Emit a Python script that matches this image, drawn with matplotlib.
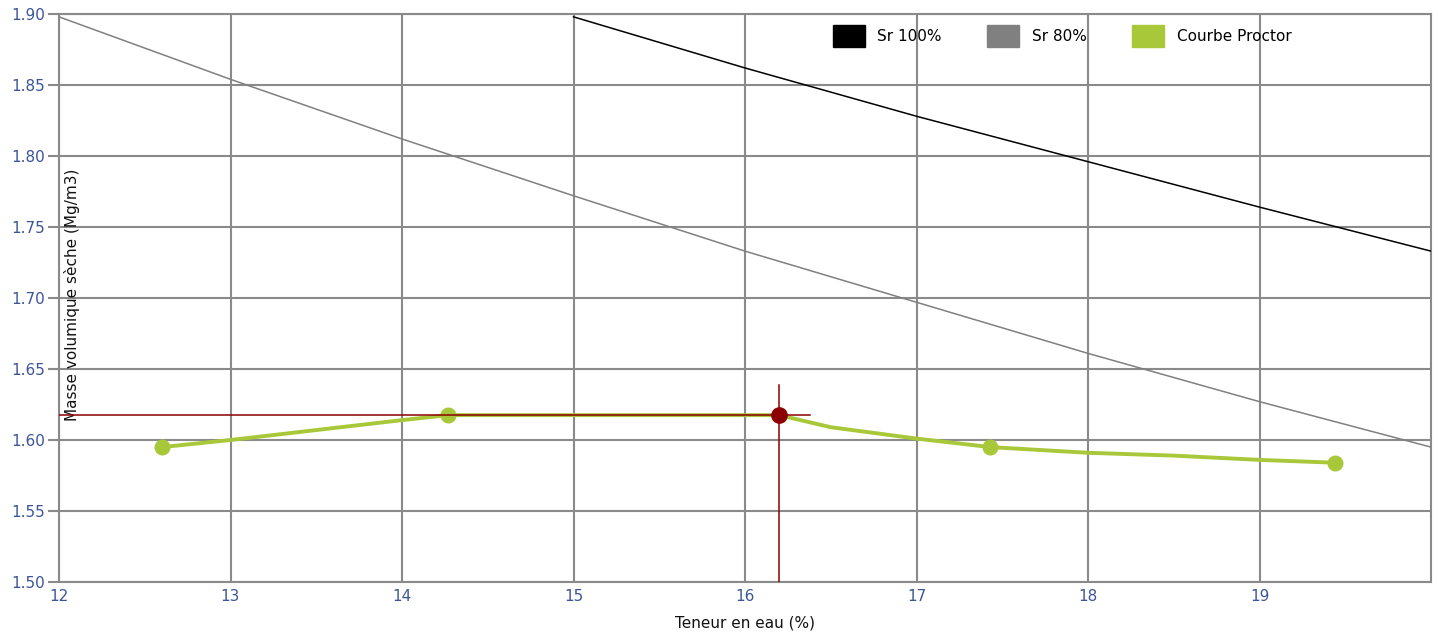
import matplotlib
matplotlib.use("Agg")
import matplotlib.pyplot as plt
from matplotlib.patches import Patch

# ---- data ----
water_sr100 = [15, 16, 17, 18, 19, 20]
dens_sr100 = [1.898, 1.862, 1.828, 1.796, 1.764, 1.733]

water_sr80 = [12, 13, 14, 15, 16, 17, 18, 19, 20]
dens_sr80 = [1.898, 1.854, 1.812, 1.772, 1.733, 1.697, 1.661, 1.627, 1.595]

proctor_pts_w = [12.60, 14.27, 17.43, 19.44]
proctor_pts_d = [1.595, 1.6175, 1.595, 1.584]

curve_w = [12.60, 13.0, 13.5, 14.0, 14.27, 15.0, 16.2, 16.5, 17.0, 17.43, 18.0, 18.5, 19.0, 19.44]
curve_d = [1.595, 1.600, 1.607, 1.614, 1.6175, 1.6175, 1.6175, 1.609, 1.601, 1.595, 1.591, 1.589, 1.586, 1.584]

opt_w = 16.20
opt_d = 1.6175
opt_hline_end = 16.38
opt_vline_top = 1.639

x_ticks = [12, 13, 14, 15, 16, 17, 18, 19]
y_ticks = [1.50, 1.55, 1.60, 1.65, 1.70, 1.75, 1.80, 1.85, 1.90]

legend_labels = ["Sr 100%", "Sr 80%", "Courbe Proctor"]
legend_colors = ["#000000", "#808080", "#a8c83a"]

# ---- drawing ----
grid_c = "#8a8a8a"
tick_c = "#3d5597"
green = "#a8c83a"
red = "#8b0000"

fig = plt.figure(figsize=(14.38, 6.36), dpi=100)
ax = fig.add_axes([59/1438, 1-582/636, (1431-59)/1438, (582-14)/636])

ax.set_xlim(12, 20)
ax.set_ylim(1.50, 1.90)
ax.set_xticks(x_ticks)
ax.set_yticks(y_ticks)
ax.set_yticklabels([f"{v:.2f}" for v in y_ticks])
ax.grid(True, color=grid_c, linewidth=1.5)
ax.set_axisbelow(True)
for s in ax.spines.values():
    s.set_color(grid_c)
    s.set_linewidth(1.5)
ax.tick_params(axis="y", length=8, width=1.5, color=grid_c, labelcolor=tick_c, labelsize=11, pad=2)
ax.tick_params(axis="x", length=0, labelcolor=tick_c, labelsize=11, pad=5)

ax.plot(water_sr100, dens_sr100, color="#000000", linewidth=1.1, zorder=3)
ax.plot(water_sr80, dens_sr80, color="#808080", linewidth=1.1, zorder=3)

ax.plot(curve_w, curve_d, color=green, linewidth=2.8, zorder=4, solid_capstyle="round")
ax.plot(proctor_pts_w, proctor_pts_d, linestyle="none", marker="o", markersize=10.5,
        color=green, zorder=5)

ax.plot([12, opt_hline_end], [opt_d, opt_d], color=red, linewidth=1.1, zorder=6)
ax.plot([opt_w, opt_w], [1.50, opt_vline_top], color=red, linewidth=1.1, zorder=6)
ax.plot([opt_w], [opt_d], marker="o", markersize=11, color=red, zorder=7)

ax.set_xlabel("Teneur en eau (%)", fontsize=11, color="#111111", labelpad=8)
ax.text(0.0095, 0.505, "Masse volumique sèche (Mg/m3)", transform=ax.transAxes,
        rotation=90, ha="center", va="center", fontsize=11, color="#111111")

handles = [Patch(facecolor=c, edgecolor=c) for c in legend_colors]
leg = ax.legend(handles, legend_labels, ncol=3, frameon=False, fontsize=11,
                loc="upper left", bbox_to_anchor=((822-59)/1372, 1.0),
                handlelength=2.1, handleheight=1.9, handletextpad=0.8,
                columnspacing=3.0, borderaxespad=0.3)

fig.savefig("out.png", dpi=100)
